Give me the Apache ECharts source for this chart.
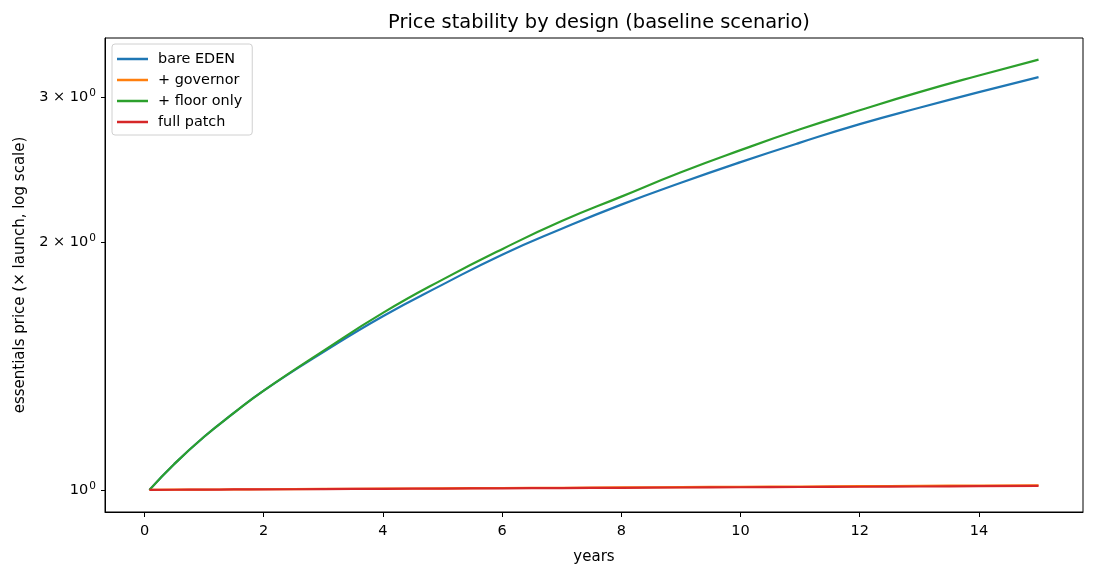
<!DOCTYPE html>
<html>
<head>
<meta charset="utf-8">
<script src="https://cdn.jsdelivr.net/npm/echarts@6/dist/echarts.min.js"></script>
<style>
  html, body { margin: 0; padding: 0; background: #fff; }
  #chart { width: 1095px; height: 575px; }
</style>
</head>
<body>
<div id="chart"></div>
<script>
// years since launch
var years = [0.083, 0.5, 1, 1.5, 2, 3, 4, 5, 6, 7, 8, 9, 10, 11, 12, 13, 14, 15];

// essentials price, x launch price
var bareEden   = [1.00, 1.075, 1.16, 1.24, 1.32, 1.47, 1.625, 1.775, 1.93, 2.075, 2.22, 2.36, 2.50, 2.64, 2.78, 2.91, 3.04, 3.17];
var floorOnly  = [1.00, 1.075, 1.16, 1.24, 1.32, 1.475, 1.64, 1.80, 1.96, 2.12, 2.27, 2.43, 2.585, 2.74, 2.89, 3.04, 3.185, 3.33];
var governor   = [1.0000, 1.0004, 1.0008, 1.0013, 1.0017, 1.0026, 1.0034, 1.0043, 1.0052, 1.0060, 1.0069, 1.0078, 1.0087, 1.0095, 1.0104, 1.0113, 1.0121, 1.0130];
var fullPatch  = [1.0000, 1.0003, 1.0007, 1.0011, 1.0014, 1.0022, 1.0029, 1.0036, 1.0044, 1.0051, 1.0058, 1.0066, 1.0073, 1.0080, 1.0088, 1.0095, 1.0103, 1.0110];

var xTicks = [0, 2, 4, 6, 8, 10, 12, 14];
var yTicks = [1, 2, 3];
var yTickText = { 1: '{n|10}{s|0}', 2: '{n|2 × 10}{s|0}', 3: '{n|3 × 10}{s|0}' };

function pairs(ys) {
  return years.map(function (x, i) { return [x, ys[i]]; });
}

var chart = echarts.init(document.getElementById('chart'));

function line(name, color, ys) {
  return {
    name: name,
    type: 'line',
    data: pairs(ys),
    smooth: true,
    symbol: 'none',
    color: color,
    lineStyle: { width: 2.2, color: color }
  };
}

chart.setOption({
  animation: false,
  backgroundColor: '#fff',
  textStyle: { fontFamily: 'DejaVu Sans' },
  title: {
    text: 'Price stability by design (baseline scenario)',
    left: 594,
    textAlign: 'center',
    top: 8,
    textStyle: { fontSize: 19.4, fontWeight: 'normal', color: '#000' }
  },
  grid: {
    left: 105, right: 12, top: 38, bottom: 63,
    show: true, borderColor: '#000', borderWidth: 1
  },
  legend: {
    orient: 'vertical',
    left: 112, top: 44,
    padding: [8, 10, 6, 5],
    icon: 'rect',
    itemWidth: 31, itemHeight: 2.5, itemGap: 7,
    borderColor: '#d0d0d0', borderWidth: 1, borderRadius: 3,
    backgroundColor: 'rgba(255,255,255,0.8)',
    textStyle: { fontSize: 14.4, color: '#000', padding: [0, 0, 0, 5] },
    data: ['bare EDEN', '+ governor', '+ floor only', 'full patch']
  },
  xAxis: {
    type: 'value',
    min: -0.663, max: 15.746,
    name: 'years',
    nameLocation: 'middle',
    nameGap: 38,
    nameTextStyle: { fontSize: 15, color: '#000' },
    axisLine: { show: true, onZero: false, lineStyle: { color: '#000' } },
    axisTick: { show: true, length: 5, lineStyle: { color: '#000' }, customValues: xTicks },
    axisLabel: { fontSize: 14.5, color: '#000', margin: 12, customValues: xTicks },
    splitLine: { show: false }
  },
  yAxis: {
    type: 'log',
    logBase: 10,
    min: 0.94, max: 3.537,
    name: 'essentials price (× launch, log scale)',
    nameLocation: 'middle',
    nameGap: 77,
    nameTextStyle: { fontSize: 15, color: '#000' },
    axisLine: { show: true, onZero: false, lineStyle: { color: '#000' } },
    axisTick: { show: true, length: 4, lineStyle: { color: '#000' }, customValues: yTicks },
    axisLabel: {
      color: '#000', margin: 9, customValues: yTicks,
      formatter: function (v) { return yTickText[Math.round(v)] || ''; },
      rich: {
        n: { fontSize: 14.5, color: '#000', fontFamily: 'DejaVu Sans', lineHeight: 18 },
        s: { fontSize: 10.5, color: '#000', fontFamily: 'DejaVu Sans', verticalAlign: 'top', lineHeight: 12, padding: [0, 0, 0, 1] }
      }
    },
    splitLine: { show: false }
  },
  series: [
    line('bare EDEN', '#1f77b4', bareEden),
    line('+ governor', '#ff7f0e', governor),
    line('+ floor only', '#2ca02c', floorOnly),
    line('full patch', '#d62728', fullPatch)
  ]
});
</script>
</body>
</html>
